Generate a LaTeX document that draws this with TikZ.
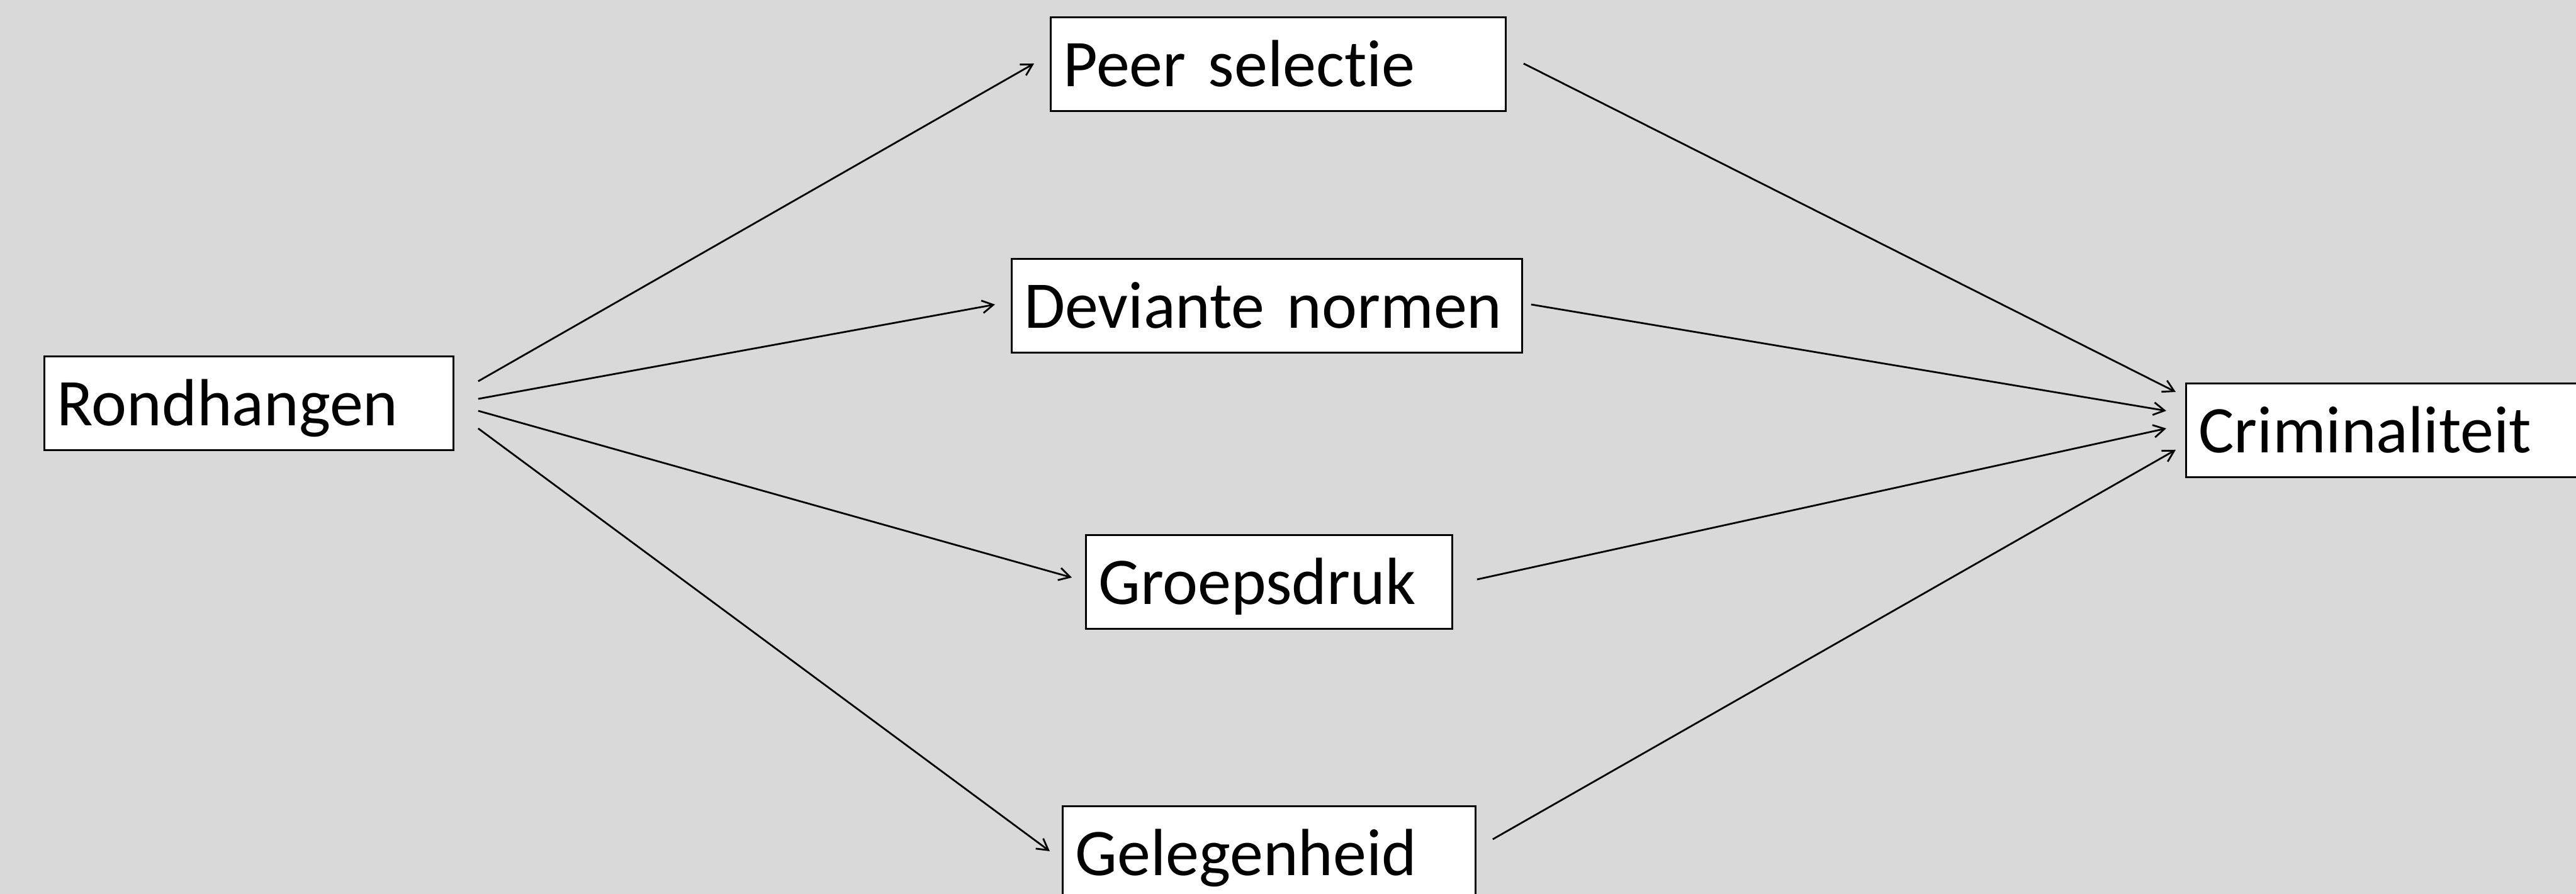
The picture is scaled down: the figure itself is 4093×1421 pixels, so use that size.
\documentclass[tikz,border=0pt]{standalone}
\usepackage{fontspec}
\setmainfont{Carlito}[Ligatures={NoCommon,NoRare,NoContextual}]
\usetikzlibrary{arrows.meta}
\definecolor{bg}{HTML}{D9D9D9}
\tikzset{
  bx/.style={draw=black, fill=white, anchor=north west, inner xsep=5pt, inner ysep=0pt,
    text height=27.5pt, text depth=9.75pt, align=left,
    font=\fontsize{26.5}{31}\selectfont, line width=0.7pt},
  arr/.style={line width=0.7pt, -{Straight Barb[length=4.4pt,width=5pt]}}
}
\begin{document}
\begin{tikzpicture}[x=0.25pt,y=-0.25pt]
\useasboundingbox (0,0) rectangle (4093,1421);
\fill[bg] (0,0) rectangle (4093,1421);
\clip (0,0) rectangle (4093,1421);
\node[bx, text width=152.5pt] (r) at (69,565) {Rondhangen};
\node[bx, text width=170.75pt] (p) at (1668,26) {Peer selectie};
\node[bx, text width=192.75pt] (d) at (1606,410) {Deviante normen};
\node[bx, text width=135.5pt] (g) at (1724,849) {Groepsdruk};
\node[bx, text width=154pt] (o) at (1687,1280) {Gelegenheid};
\node[bx, text width=165pt] (c) at (3472,608) {Criminaliteit};
% connector ends
\coordinate (r1) at ([shift={(38,41)}]r.north east);
\coordinate (r2) at ([shift={(38,69)}]r.north east);
\coordinate (r3) at ([shift={(38,88)}]r.north east);
\coordinate (r4) at ([shift={(38,116)}]r.north east);
\coordinate (pin) at ([shift={(-25,75)}]p.north west);
\coordinate (pout) at ([shift={(27,75)}]p.north east);
\coordinate (din) at ([shift={(-25,74)}]d.north west);
\coordinate (dout) at ([shift={(13,74)}]d.north east);
\coordinate (gin) at ([shift={(-21,69)}]g.north west);
\coordinate (gout) at ([shift={(38,72)}]g.north east);
\coordinate (oin) at ([shift={(-19,73)}]o.north west);
\coordinate (oout) at ([shift={(26,54)}]o.north east);
\coordinate (c1) at ([shift={(-15,15)}]c.north west);
\coordinate (c2) at ([shift={(-30,45)}]c.north west);
\coordinate (c3) at ([shift={(-30,73)}]c.north west);
\coordinate (c4) at ([shift={(-15,107)}]c.north west);
\draw[arr] (r1) -- (pin);
\draw[arr] (r2) -- (din);
\draw[arr] (r3) -- (gin);
\draw[arr] (r4) -- (oin);
\draw[arr] (pout) -- (c1);
\draw[arr] (dout) -- (c2);
\draw[arr] (gout) -- (c3);
\draw[arr] (oout) -- (c4);
\end{tikzpicture}
\end{document}
